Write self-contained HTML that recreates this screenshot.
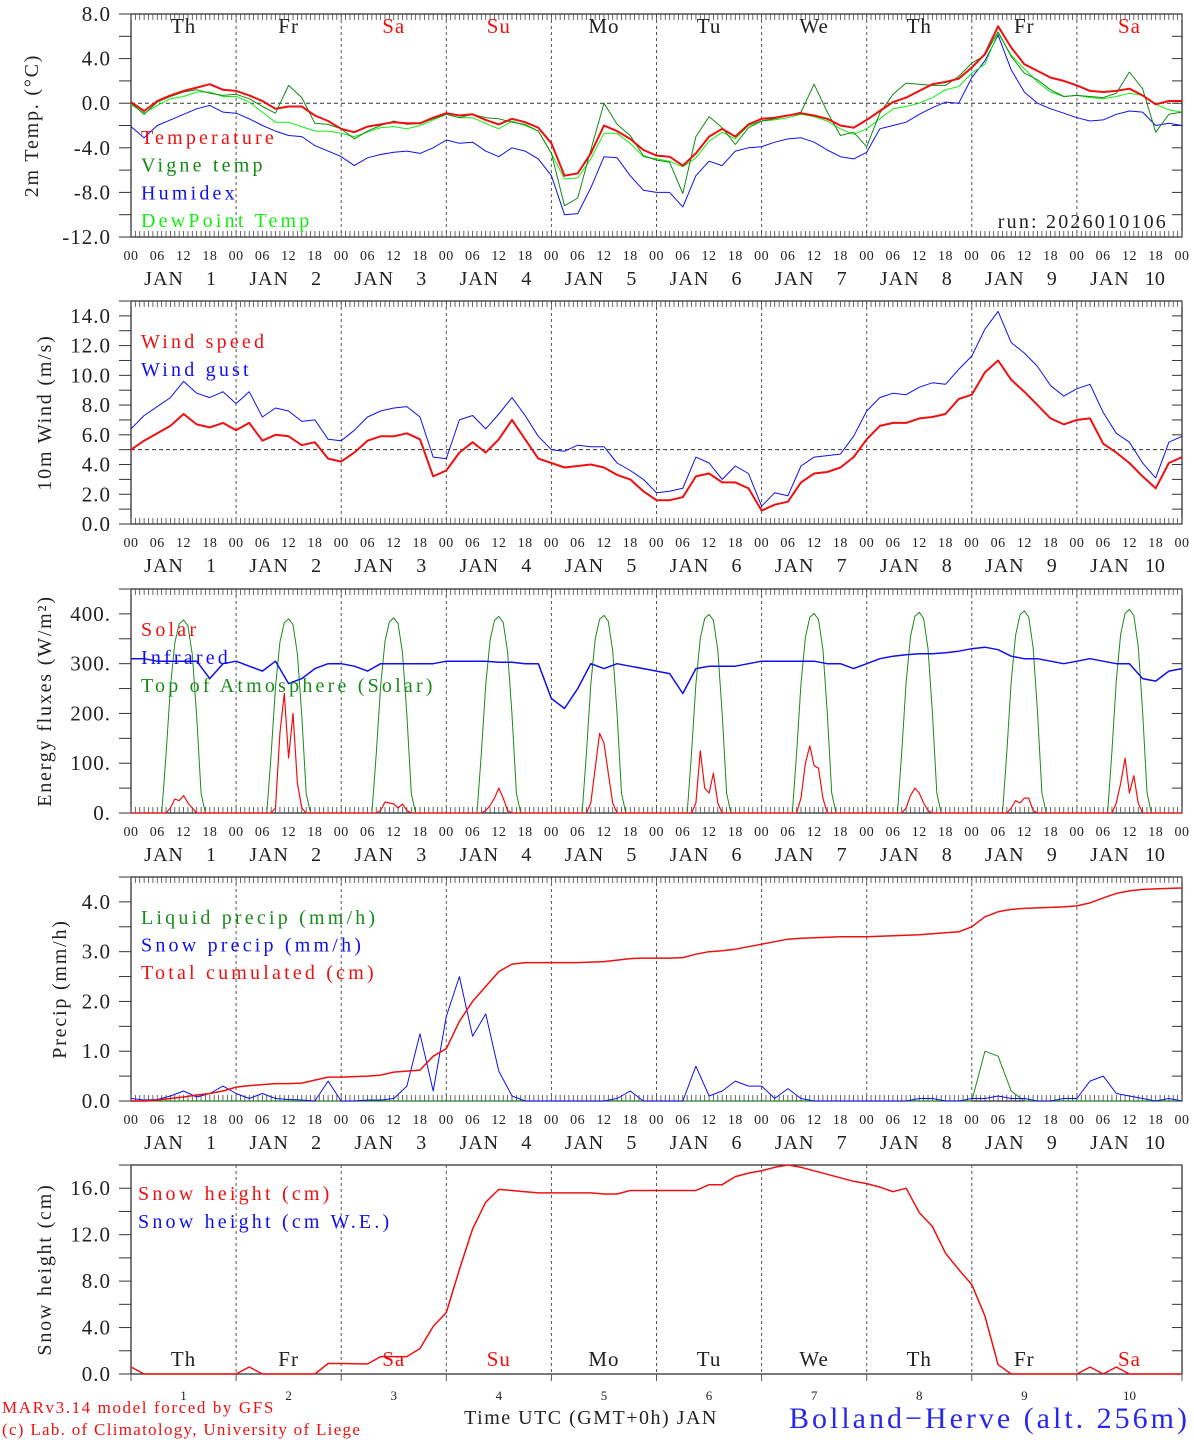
<!DOCTYPE html>
<html><head><meta charset="utf-8"><style>
html,body{margin:0;padding:0;background:#fff;}
svg{display:block;}
text{font-family:"Liberation Serif",serif;}
</style></head><body>
<svg id="chart" xmlns="http://www.w3.org/2000/svg" width="1194" height="1440" viewBox="0 0 1194 1440"></svg>
<script>
// ---------- data (3-hourly, 81 points, hour = 3*i) ----------
const dayNames = ["Th","Fr","Sa","Su","Mo","Tu","We","Th","Fr","Sa"];
const dayNums = ["1","2","3","4","5","6","7","8","9","10"];
const hourLabels = ["00","06","12","18"];
const temperature = [0.1,-0.7,0.2,0.7,1.1,1.4,1.7,1.2, 1.1,0.7,0.2,-0.5,-0.3,-0.3,-1.1,-1.6, -2.3,-2.6,-2.1,-1.9,-1.7,-1.8,-1.8,-1.3, -0.9,-1.1,-1.0,-1.5,-1.9,-1.4,-1.7,-2.2, -3.6,-6.5,-6.3,-4.5,-2.0,-2.5,-3.2,-4.2, -4.7,-4.8,-5.6,-4.5,-3.0,-2.3,-3.0,-1.9, -1.4,-1.3,-1.1,-0.9,-1.1,-1.4,-2.0,-2.2, -1.5,-0.7,0.1,0.5,1.1,1.7,1.9,2.2, 3.2,4.4,6.9,5.0,3.5,2.9,2.3,2.0, 1.6,1.1,1.0,1.1,1.3,0.7,-0.1,0.2,0.2];
const vigneTemp = [0,-1.0,0.1,0.6,1.0,1.2,0.9,0.7, 0.8,0.4,-0.3,-0.9,1.6,0.5,-1.8,-1.9, -2.3,-3.2,-2.5,-2.0,-1.6,-1.9,-1.8,-1.4, -1.0,-1.3,-1.0,-1.3,-1.4,-1.7,-1.9,-2.5, -4.5,-9.2,-8.5,-4.2,0.0,-1.9,-2.9,-4.7, -5.1,-5.3,-8.1,-3.0,-1.2,-2.2,-3.7,-2.2, -1.6,-1.4,-1.1,-0.8,1.7,-0.8,-2.9,-2.6, -3.9,-0.9,0.8,1.8,1.7,1.6,1.6,2.4, 3.6,4.3,6.4,4.2,2.7,2.1,1.2,0.6, 0.7,0.6,0.5,0.9,2.8,1.3,-2.6,-1.0,-0.8];
const humidex = [-2.1,-3.1,-2.0,-1.5,-1.0,-0.5,-0.2,-0.8, -0.9,-1.4,-2.0,-2.5,-2.9,-3.0,-3.8,-4.3, -4.8,-5.6,-4.9,-4.6,-4.4,-4.3,-4.5,-4.0, -3.3,-3.6,-3.5,-4.3,-4.8,-4.0,-4.3,-5.0, -6.5,-10.0,-9.9,-7.6,-4.8,-4.9,-6.5,-7.8, -8.0,-8.0,-9.3,-6.5,-5.2,-5.6,-4.3,-4.0, -3.9,-3.5,-3.2,-3.1,-3.5,-4.2,-4.8,-5.0, -4.4,-2.3,-2.0,-1.7,-1.0,-0.4,0.1,0.0, 2.3,3.8,6.1,3.0,1.0,0.0,-0.5,-0.9, -1.3,-1.6,-1.5,-1.0,-0.7,-0.8,-2.0,-1.8,-2.0];
const dewPoint = [-0.1,-0.9,-0.2,0.4,0.6,1.0,1.0,0.6, 0.6,0.1,-0.8,-1.7,-1.7,-2.1,-2.5,-2.5, -2.7,-3.0,-2.6,-2.2,-2.1,-2.3,-2.0,-1.5, -1.0,-1.3,-1.3,-1.8,-2.3,-1.6,-2.0,-2.5, -4.5,-6.8,-6.7,-5.0,-2.7,-2.7,-3.6,-4.8, -5.0,-5.2,-5.7,-4.9,-3.4,-2.6,-3.2,-2.0, -1.6,-1.5,-1.3,-1.0,-1.2,-1.6,-2.3,-2.8, -2.3,-1.4,-0.5,-0.3,0.0,0.5,1.2,1.5, 2.7,3.5,6.3,4.3,3.1,1.9,1.0,0.6, 0.7,0.5,0.4,0.6,0.9,0.7,-0.1,-0.6,-0.8];
const windSpeed = [5.0,5.6,6.1,6.6,7.4,6.7,6.5,6.8, 6.3,6.8,5.6,6.0,5.9,5.3,5.5,4.4, 4.2,4.8,5.6,5.9,5.9,6.1,5.7,3.2, 3.6,4.8,5.5,4.8,5.7,7.0,5.7,4.4, 4.1,3.8,3.9,4.0,3.8,3.3,3.0,2.2, 1.6,1.6,1.8,3.2,3.4,2.8,2.8,2.4, 0.9,1.3,1.5,2.8,3.4,3.5,3.8,4.5, 5.7,6.6,6.8,6.8,7.1,7.2,7.4,8.4, 8.7,10.2,11.0,9.7,8.9,8.0,7.1,6.7, 7.0,7.1,5.4,4.8,4.1,3.2,2.4,4.1,4.5];
const windGust = [6.4,7.3,7.9,8.5,9.6,8.8,8.5,8.9, 8.1,8.9,7.2,7.8,7.6,6.9,7.0,5.7, 5.6,6.3,7.2,7.6,7.8,7.9,7.2,4.5, 4.4,7.0,7.3,6.4,7.4,8.5,7.3,5.9, 5.0,4.9,5.3,5.2,5.2,4.1,3.6,3.0, 2.1,2.2,2.4,4.5,4.1,3.0,3.9,3.4, 1.2,2.1,1.9,3.9,4.5,4.6,4.7,5.9, 7.6,8.5,8.8,8.7,9.2,9.5,9.4,10.4, 11.3,13.1,14.3,12.2,11.5,10.6,9.3,8.6, 9.1,9.4,7.5,6.1,5.5,4.1,3.1,5.5,5.9];
const infrared = [310,310,305,305,305,305,270,300, 305,295,285,305,260,270,290,300, 300,295,285,300,300,300,300,300, 305,305,305,305,303,303,300,300, 230,210,250,300,290,300,295,290, 285,280,240,290,295,295,295,300, 305,305,305,305,305,300,300,290, 300,310,315,318,320,320,322,325, 330,333,328,315,310,310,305,300, 305,310,305,300,300,270,265,285,290];
const snowPrecip = [0.05,0.02,0.03,0.1,0.2,0.08,0.15,0.3, 0.15,0.05,0.15,0.05,0.03,0.02,0.0,0.4, 0.0,0.0,0.02,0.02,0.05,0.3,1.35,0.2, 1.7,2.5,1.3,1.75,0.6,0.1,0,0, 0,0,0,0,0,0.05,0.2,0, 0,0,0,0.7,0.1,0.2,0.4,0.3, 0.3,0.05,0.25,0.05,0,0,0,0, 0,0,0,0,0.05,0.05,0,0, 0.05,0.05,0.1,0.05,0.05,0,0,0.05, 0.05,0.4,0.5,0.15,0.1,0.05,0,0.05,0];
const liquidPrecip = [0,0,0,0,0,0,0,0, 0,0,0,0,0,0,0,0, 0,0,0,0,0,0,0,0, 0,0,0,0,0,0,0,0, 0,0,0,0,0,0,0,0, 0,0,0,0,0,0,0,0, 0,0,0,0,0,0,0,0, 0,0,0,0,0,0,0,0, 0,1.0,0.9,0.2,0,0,0,0, 0,0,0,0,0,0,0,0,0];
const totalCumul = [0,0,0.02,0.05,0.08,0.12,0.15,0.2, 0.28,0.31,0.33,0.35,0.35,0.36,0.42,0.48, 0.48,0.49,0.5,0.52,0.58,0.6,0.62,0.9, 1.05,1.6,2.0,2.3,2.6,2.75,2.78,2.78, 2.78,2.78,2.78,2.79,2.8,2.83,2.86,2.87, 2.87,2.87,2.88,2.95,3.0,3.02,3.05,3.1, 3.15,3.2,3.25,3.27,3.28,3.29,3.3,3.3, 3.3,3.31,3.32,3.33,3.34,3.36,3.38,3.4, 3.5,3.7,3.8,3.85,3.87,3.88,3.89,3.9, 3.92,3.98,4.08,4.17,4.22,4.25,4.26,4.27,4.28];
const snowHeight = [0.6,0,0,0,0,0,0,0, 0,0.6,0,0,0,0,0,0.9, 0.9,0.88,0.86,1.5,1.5,1.5,2.2,4.1, 5.3,9.0,12.5,14.8,15.9,15.8,15.7,15.6, 15.6,15.6,15.6,15.6,15.5,15.5,15.8,15.8, 15.8,15.8,15.8,15.8,16.3,16.3,17.0,17.3, 17.5,17.8,18.0,17.8,17.5,17.2,16.9,16.6, 16.4,16.1,15.7,16.0,13.9,12.7,10.4,9.0, 7.7,5.0,0.8,0,0,0,0,0, 0,0.6,0,0.6,0,0,0,0,0];
// hourly daytime values (hours 7..17) per day
const solarByDay = [
 [0,0,10,28,25,35,20,10,0,0,0],[0,0,10,160,240,110,200,60,10,0,0],[0,0,5,22,20,18,10,18,5,0,0],
 [0,0,5,15,30,50,30,5,0,0,0],[0,0,20,90,160,140,80,20,0,0,0],[0,0,20,125,50,40,80,20,0,0,0],
 [0,0,30,100,135,95,90,30,0,0,0],[0,0,10,35,50,40,20,5,0,0,0],[0,0,10,25,20,30,30,5,0,0,0],
 [0,0,20,60,110,40,75,20,0,0,0]];
const toaPeak = [388,390,392,395,397,399,401,403,406,409];
const toaShape = [0,0.3,0.65,0.88,0.98,1.0,0.97,0.82,0.5,0.1,0];

// ---------- drawing ----------
const svg = document.getElementById('chart');
const NS = "http://www.w3.org/2000/svg";
const X0 = 131, X1 = 1182;
function xs(h){ return X0 + h/240*(X1-X0); }
function el(tag, attrs, parent){ const e=document.createElementNS(NS,tag); for(const k in attrs) e.setAttribute(k,attrs[k]); (parent||svg).appendChild(e); return e; }
function txt(s, attrs, parent){ const e=el('text',attrs,parent); e.textContent=s; return e; }

const panels = [
 {name:'temperature-panel', top:14, bot:237, min:-12, max:8, major:4, minor:2, fmt:v=>v.toFixed(1), ylabel:'2m Temp. (°C)', lx:32, ruler:true, dash:0},
 {name:'wind-panel', top:301, bot:524, min:0, max:15, major:2, minor:1, fmt:v=>v.toFixed(1), ylabel:'10m Wind (m/s)', lx:45, ruler:true, dash:5},
 {name:'energy-panel', top:589, bot:813, min:0, max:450, major:100, minor:50, fmt:v=>v.toFixed(0)+'.', ylabel:'Energy fluxes (W/m²)', lx:45, ruler:true},
 {name:'precip-panel', top:877, bot:1101, min:0, max:4.5, major:1, minor:0.5, fmt:v=>v.toFixed(1), ylabel:'Precip (mm/h)', lx:60, ruler:true},
 {name:'snow-panel', top:1165, bot:1374, min:0, max:18, major:4, minor:2, fmt:v=>v.toFixed(1), ylabel:'Snow height (cm)', lx:45, ruler:false}
];
panels.forEach(p=>{ p.ys = v => p.bot - (v-p.min)/(p.max-p.min)*(p.bot-p.top); });

panels.forEach((p,pi)=>{
  const g = el('g',{});
  
  
  el('rect',{x:X0,y:p.top,width:X1-X0,height:p.bot-p.top,fill:'none',stroke:'#222','stroke-width':1.2},g);
  el('line',{x1:X0-12,y1:p.top,x2:X0,y2:p.top,stroke:'#222'},g);
  for(let d=1; d<10; d++){ const x=xs(d*24); el('line',{x1:x,y1:p.top,x2:x,y2:p.bot,stroke:'#555','stroke-dasharray':'3,3'},g); }
  for(let v=p.min; v<=p.max+1e-9; v+=p.minor){
    const y=p.ys(v); const isMaj = Math.abs((v-p.min)/p.major - Math.round((v-p.min)/p.major))<1e-6 && v<=p.max;
    el('line',{x1:X0-12,y1:y,x2:X0,y2:y,stroke:'#333'},g);
    el('line',{x1:X1-10,y1:y,x2:X1,y2:y,stroke:'#333'},g);
    if(isMaj && !(pi===1 && v>14)) { const t=txt(p.fmt(v),{x:111,y:y+7,'font-size':21,'text-anchor':'end',fill:'#222','letter-spacing':'1'},g);
        }
  }
  if(p.dash!==undefined){ const y=p.ys(p.dash); el('line',{x1:X0,y1:y,x2:X1,y2:y,stroke:'#333','stroke-dasharray':'4,3'},g); }
  const yl = txt(p.ylabel,{x:p.lx,y:(p.top+p.bot)/2,'font-size':20,'letter-spacing':'1.8','text-anchor':'middle',fill:'#222',transform:`rotate(-90 ${p.lx} ${(p.top+p.bot)/2})`,dy:6},g);
   
  if(p.ruler){
    for(let h=0; h<=240; h++){ const x=xs(h);
      el('line',{x1:x,y1:p.top,x2:x,y2:p.top+6,stroke:'#444','stroke-width':0.8},g);
      el('line',{x1:x,y1:p.bot,x2:x,y2:p.bot-6,stroke:'#444','stroke-width':0.8},g); }
    for(let h=0; h<=240; h+=6){ const lab=hourLabels[(h/6)%4];
      const t=txt(lab,{x:xs(h),y:p.bot+23,'font-size':14,'text-anchor':'middle',fill:'#222','letter-spacing':'0.5'},g);
        }
    for(let d=0; d<10; d++){
      const t1=txt('JAN',{x:xs(d*24)+33,y:p.bot+48,'font-size':20,'text-anchor':'middle',fill:'#222','letter-spacing':'1'},g);
       
      const t2=txt(dayNums[d],{x:xs(d*24)+(d===9?78:80),y:p.bot+48,'font-size':20,'text-anchor':'middle',fill:'#222'},g);
       
    }
  }
});

function series(arr, p, color, w, name, step){
  step = step||3;
  const pts = arr.map((v,i)=> xs(i*step).toFixed(1)+','+p.ys(v).toFixed(1)).join(' ');
  const e = el('polyline',{points:pts,fill:'none',stroke:color,'stroke-width':w,'stroke-linejoin':'round'});
  
  
  return e;
}
const [P1,P2,P3,P4,P5] = panels;

series(humidex,P1,'#1010ee',1,'humidex-line');
series(dewPoint,P1,'#10ee10',1,'dewpoint-line');
series(vigneTemp,P1,'#138a13',1,'vigne-temp-line');
series(temperature,P1,'#ee1010',2,'temperature-line');
series(windGust,P2,'#1010ee',1,'wind-gust-line');
series(windSpeed,P2,'#ee1010',2,'wind-speed-line');
const solarH = new Array(241).fill(0), toaH = new Array(241).fill(0);
for(let d=0; d<10; d++) for(let k=0;k<11;k++){ solarH[d*24+7+k]=solarByDay[d][k]; toaH[d*24+7+k]=toaPeak[d]*toaShape[k]; }
series(toaH,P3,'#1a8a1a',1,'toa-solar-line',1);
series(infrared,P3,'#1010ee',1.5,'infrared-line');
series(solarH,P3,'#ee1010',1.2,'solar-line',1);
series(liquidPrecip,P4,'#1a8a1a',1,'liquid-precip-line');
series(snowPrecip,P4,'#1010ee',1,'snow-precip-line');
series(totalCumul,P4,'#ee1010',1.5,'total-cumulated-line');
series(snowHeight,P5,'#ee1010',1.5,'snow-height-line');

function legend(items, x, y0, dy){
  items.forEach((it,i)=>{
    const t=txt(it[0],{x:x,y:y0+i*dy,'font-size':20,fill:it[1],'letter-spacing':'3.2'});
     
  });
}
legend([['Temperature','#ee1010'],['Vigne temp','#138a13'],['Humidex','#1010ee'],['DewPoint Temp','#10ee10']],141,144,27.7);
legend([['Wind speed','#ee1010'],['Wind gust','#1010ee']],141,348,28);
legend([['Solar','#ee1010'],['Infrared','#1010ee'],['Top of Atmosphere (Solar)','#1a8a1a']],141,636,28);
legend([['Liquid precip (mm/h)','#1a8a1a'],['Snow precip (mm/h)','#1010ee'],['Total cumulated (cm)','#ee1010']],141,924,27.5);
legend([['Snow height (cm)','#ee1010'],['Snow height (cm W.E.)','#1010ee']],138,1200,28);

for(let d=0; d<10; d++){
  const c = (dayNames[d]==='Sa'||dayNames[d]==='Su') ? '#ee1010' : '#222';
  const a=txt(dayNames[d],{x:xs(d*24+12),y:33,'font-size':21,'text-anchor':'middle',fill:c,'letter-spacing':'1'});
   
  const b=txt(dayNames[d],{x:xs(d*24+12),y:1366,'font-size':21,'text-anchor':'middle',fill:c,'letter-spacing':'1'});
   
  const n=txt(dayNums[d],{x:xs(d*24+12),y:1400,'font-size':13,'text-anchor':'middle',fill:'#222'});
   
  el('line',{x1:xs(d*24),y1:1374,x2:xs(d*24),y2:1381,stroke:'#555'});
}
el('line',{x1:X1,y1:1374,x2:X1,y2:1381,stroke:'#555'});

const run=txt('run: 2026010106',{x:1168,y:228,'font-size':20,'text-anchor':'end',fill:'#222','letter-spacing':'2.2'});
 
const f1=txt('MARv3.14 model forced by GFS',{x:2,y:1413,'font-size':17,fill:'#ee1010','letter-spacing':'1.6'});
 
const f2=txt('(c) Lab. of Climatology, University of Liege',{x:2,y:1435,'font-size':17,fill:'#ee1010','letter-spacing':'1.3'});
 
const xt=txt('Time UTC (GMT+0h) JAN',{x:591,y:1424,'font-size':20,'text-anchor':'middle',fill:'#222','letter-spacing':'1.5'});
 
const st=txt('Bolland−Herve (alt. 256m)',{x:1190,y:1428,'font-size':30,'text-anchor':'end',fill:'#2828ee','letter-spacing':'3'});
 
</script>
</body></html>
